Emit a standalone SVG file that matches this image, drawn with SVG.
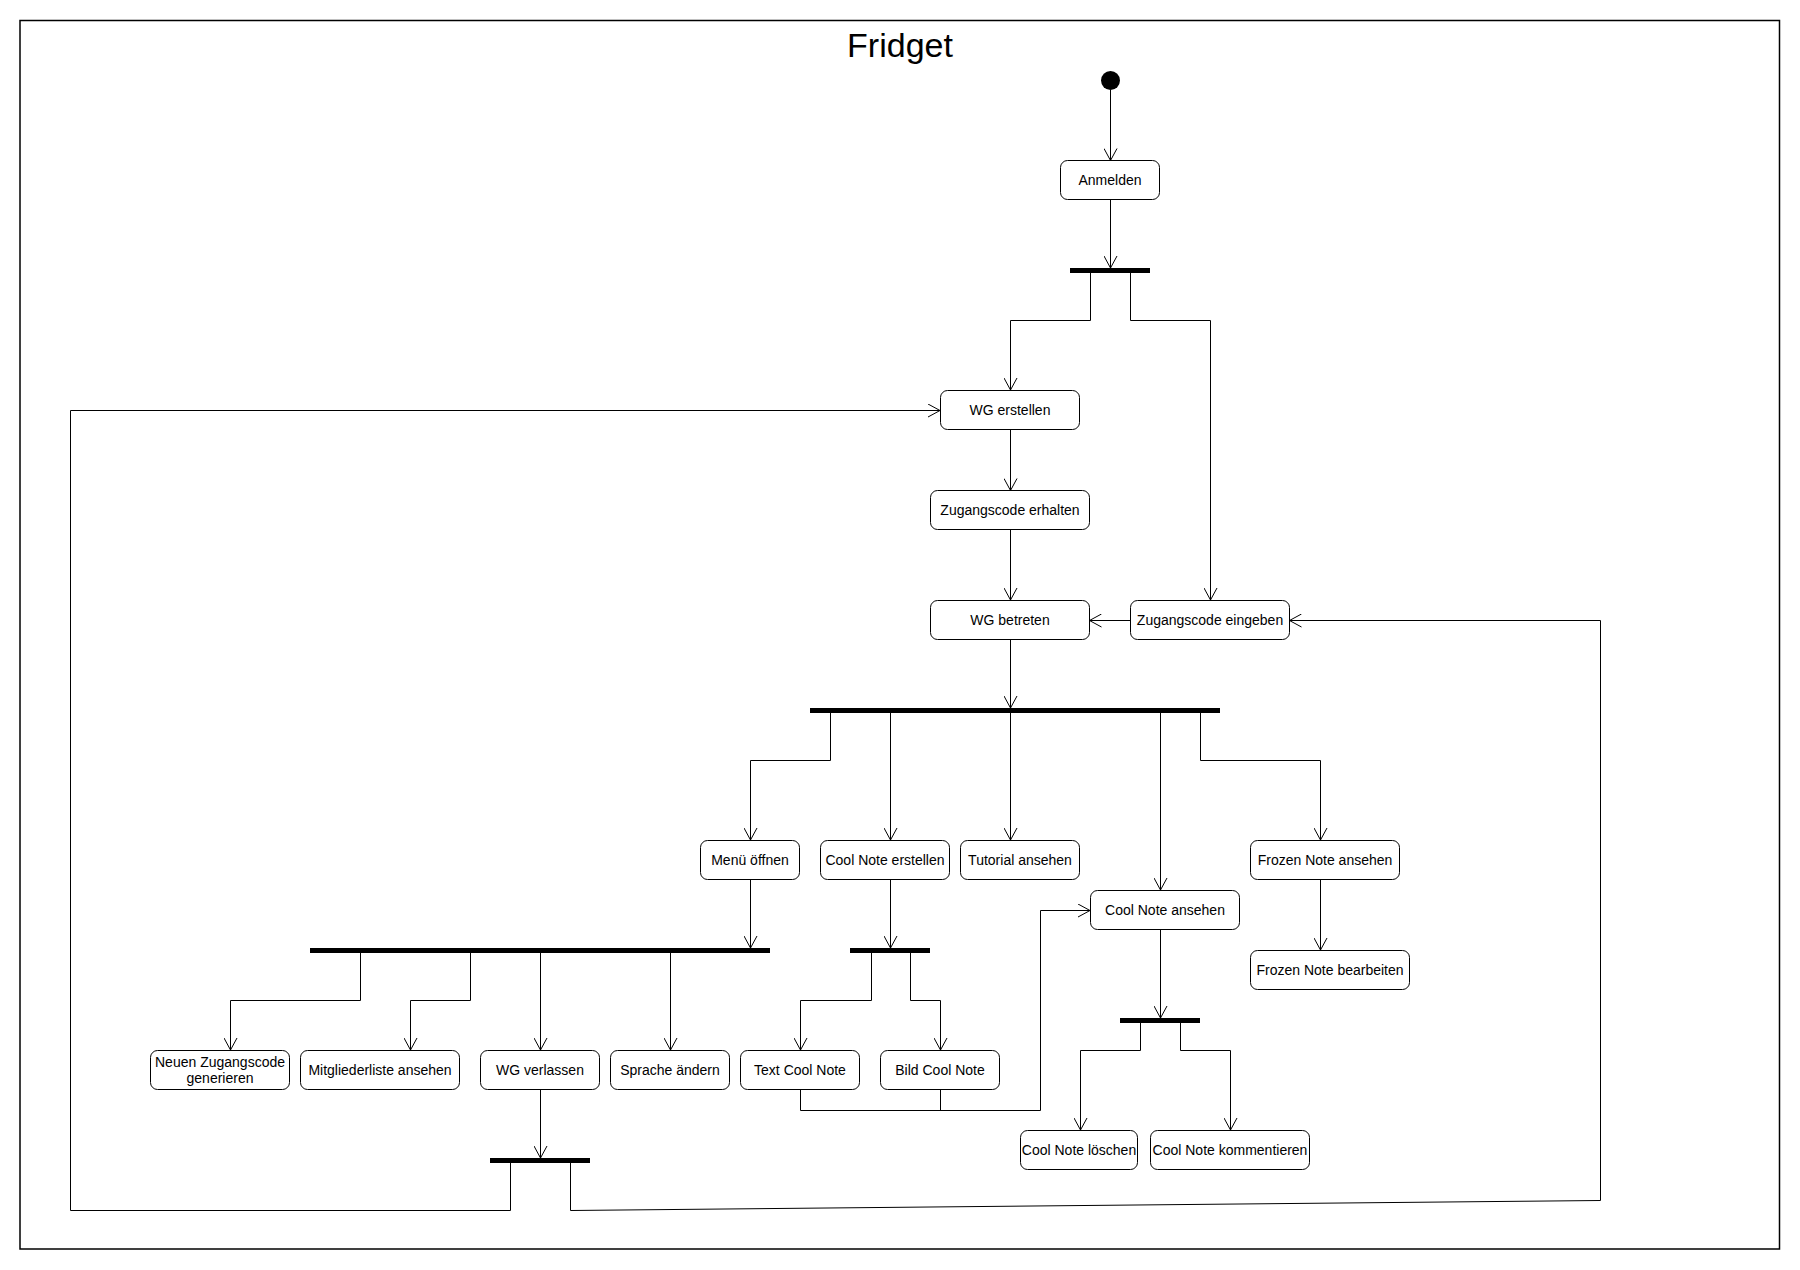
<svg xmlns="http://www.w3.org/2000/svg" width="1800" height="1270" viewBox="0 0 1800 1270">
<style>
.box{fill:#fff;stroke:#000;stroke-width:1}
.bar{fill:#000}
.lbl{font-family:"Liberation Sans",Arial,sans-serif;font-size:14px;fill:#000;text-anchor:middle}
.title{font-family:"Liberation Sans",Arial,sans-serif;font-size:34px;fill:#000;text-anchor:middle}
.c{fill:none;stroke:#000;stroke-width:1}
</style>
<defs>
<marker id="arr" viewBox="0 0 13 14" refX="12.5" refY="7" markerWidth="13" markerHeight="14" markerUnits="userSpaceOnUse" orient="auto">
<path d="M0.5,0.5 L12.5,7 L0.5,13.5" fill="none" stroke="#000" stroke-width="1"/>
</marker>
</defs>
<rect x="0" y="0" width="1800" height="1270" fill="#fff"/>
<rect id="frame" x="20" y="20.5" width="1759.5" height="1228.5" fill="none" stroke="#000" stroke-width="1.5"/>
<text class="title" x="900" y="57">Fridget</text>

<g id="connectors">
<path class="c" d="M1110.5,90 V160.5" marker-end="url(#arr)"/>
<path class="c" d="M1110.5,199.5 V268" marker-end="url(#arr)"/>
<path class="c" d="M1090.5,273 V320.5 H1010.5 V390" marker-end="url(#arr)"/>
<path class="c" d="M1130.5,273 V320.5 H1210.5 V600" marker-end="url(#arr)"/>
<path class="c" d="M1010.5,429.5 V490.5" marker-end="url(#arr)"/>
<path class="c" d="M1010.5,529.5 V600" marker-end="url(#arr)"/>
<path class="c" d="M1130,620.5 H1089.5" marker-end="url(#arr)"/>
<path class="c" d="M1010.5,639.5 V708" marker-end="url(#arr)"/>
<path class="c" d="M830.5,713 V760.5 H750.5 V840" marker-end="url(#arr)"/>
<path class="c" d="M890.5,713 V840" marker-end="url(#arr)"/>
<path class="c" d="M1010.5,713 V840" marker-end="url(#arr)"/>
<path class="c" d="M1160.5,713 V890" marker-end="url(#arr)"/>
<path class="c" d="M1200.5,713 V760.5 H1320.5 V840" marker-end="url(#arr)"/>
<path class="c" d="M1320.5,879.5 V950" marker-end="url(#arr)"/>
<path class="c" d="M750.5,879.5 V948" marker-end="url(#arr)"/>
<path class="c" d="M890.5,879.5 V948" marker-end="url(#arr)"/>
<path class="c" d="M1160.5,929.5 V1018" marker-end="url(#arr)"/>
<path class="c" d="M360.5,953 V1000.5 H230.5 V1050" marker-end="url(#arr)"/>
<path class="c" d="M470.5,953 V1000.5 H410.5 V1050" marker-end="url(#arr)"/>
<path class="c" d="M540.5,953 V1050" marker-end="url(#arr)"/>
<path class="c" d="M670.5,953 V1050" marker-end="url(#arr)"/>
<path class="c" d="M871.5,953 V1000.5 H800.5 V1050" marker-end="url(#arr)"/>
<path class="c" d="M910.5,953 V1000.5 H940.5 V1050" marker-end="url(#arr)"/>
<path class="c" d="M800.5,1089.5 V1110.5 H1040.5 V910.5 H1090" marker-end="url(#arr)"/>
<path class="c" d="M940.5,1089.5 V1110.5"/>
<path class="c" d="M1140.5,1023 V1050.5 H1080.5 V1130" marker-end="url(#arr)"/>
<path class="c" d="M1180.5,1023 V1050.5 H1230.5 V1130" marker-end="url(#arr)"/>
<path class="c" d="M540.5,1089.5 V1158" marker-end="url(#arr)"/>
<path class="c" d="M510.5,1163 V1210.5 H70.5 V410.5 H940" marker-end="url(#arr)"/>
<path class="c" d="M570.5,1163 V1210.5 L1600.5,1200.5 V620.5 H1289.5" marker-end="url(#arr)"/>
</g>

<g id="start"><circle cx="1110.5" cy="80.5" r="9.5" fill="#000"/></g>

<g id="fork1"><rect class="bar" x="1070" y="268" width="80" height="5"/></g>
<g id="fork2"><rect class="bar" x="810" y="708" width="410" height="5"/></g>
<g id="fork3"><rect class="bar" x="310" y="948" width="460" height="5"/></g>
<g id="fork4"><rect class="bar" x="850" y="948" width="80" height="5"/></g>
<g id="fork5"><rect class="bar" x="1120" y="1018" width="80" height="5"/></g>
<g id="fork6"><rect class="bar" x="490" y="1158" width="100" height="5"/></g>

<g id="anmelden"><rect class="box" x="1060.5" y="160.5" width="99" height="39" rx="7"/><text class="lbl" x="1110" y="185">Anmelden</text></g>
<g id="wg-erstellen"><rect class="box" x="940.5" y="390.5" width="139" height="39" rx="7"/><text class="lbl" x="1010" y="415">WG erstellen</text></g>
<g id="zugangscode-erhalten"><rect class="box" x="930.5" y="490.5" width="159" height="39" rx="7"/><text class="lbl" x="1010" y="515">Zugangscode erhalten</text></g>
<g id="wg-betreten"><rect class="box" x="930.5" y="600.5" width="159" height="39" rx="7"/><text class="lbl" x="1010" y="625">WG betreten</text></g>
<g id="zugangscode-eingeben"><rect class="box" x="1130.5" y="600.5" width="159" height="39" rx="7"/><text class="lbl" x="1210" y="625">Zugangscode eingeben</text></g>
<g id="menue-oeffnen"><rect class="box" x="700.5" y="840.5" width="99" height="39" rx="7"/><text class="lbl" x="750" y="865">Menü öffnen</text></g>
<g id="cool-note-erstellen"><rect class="box" x="820.5" y="840.5" width="129" height="39" rx="7"/><text class="lbl" x="885" y="865">Cool Note erstellen</text></g>
<g id="tutorial-ansehen"><rect class="box" x="960.5" y="840.5" width="119" height="39" rx="7"/><text class="lbl" x="1020" y="865">Tutorial ansehen</text></g>
<g id="frozen-note-ansehen"><rect class="box" x="1250.5" y="840.5" width="149" height="39" rx="7"/><text class="lbl" x="1325" y="865">Frozen Note ansehen</text></g>
<g id="cool-note-ansehen"><rect class="box" x="1090.5" y="890.5" width="149" height="39" rx="7"/><text class="lbl" x="1165" y="915">Cool Note ansehen</text></g>
<g id="frozen-note-bearbeiten"><rect class="box" x="1250.5" y="950.5" width="159" height="39" rx="7"/><text class="lbl" x="1330" y="975">Frozen Note bearbeiten</text></g>
<g id="neuen-zugangscode"><rect class="box" x="150.5" y="1050.5" width="139" height="39" rx="7"/><text class="lbl" x="220" y="1067">Neuen Zugangscode</text><text class="lbl" x="220" y="1083">generieren</text></g>
<g id="mitgliederliste"><rect class="box" x="300.5" y="1050.5" width="159" height="39" rx="7"/><text class="lbl" x="380" y="1075">Mitgliederliste ansehen</text></g>
<g id="wg-verlassen"><rect class="box" x="480.5" y="1050.5" width="119" height="39" rx="7"/><text class="lbl" x="540" y="1075">WG verlassen</text></g>
<g id="sprache-aendern"><rect class="box" x="610.5" y="1050.5" width="119" height="39" rx="7"/><text class="lbl" x="670" y="1075">Sprache ändern</text></g>
<g id="text-cool-note"><rect class="box" x="740.5" y="1050.5" width="119" height="39" rx="7"/><text class="lbl" x="800" y="1075">Text Cool Note</text></g>
<g id="bild-cool-note"><rect class="box" x="880.5" y="1050.5" width="119" height="39" rx="7"/><text class="lbl" x="940" y="1075">Bild Cool Note</text></g>
<g id="cool-note-loeschen"><rect class="box" x="1020.5" y="1130.5" width="117" height="39" rx="7"/><text class="lbl" x="1079" y="1155">Cool Note löschen</text></g>
<g id="cool-note-kommentieren"><rect class="box" x="1150.5" y="1130.5" width="159" height="39" rx="7"/><text class="lbl" x="1230" y="1155">Cool Note kommentieren</text></g>
</svg>
